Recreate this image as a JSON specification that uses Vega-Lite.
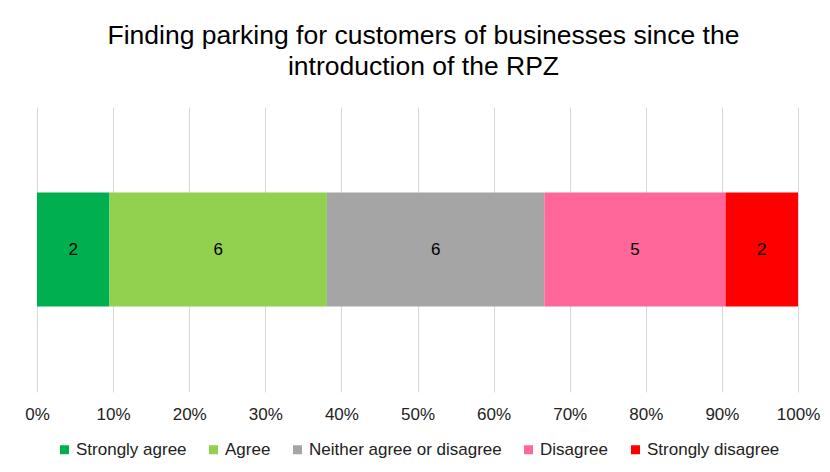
{
  "$schema": "https://vega.github.io/schema/vega-lite/v6.json",
  "width": 761,
  "height": 285,
  "autosize": {"type": "none"},
  "padding": {"left": 37, "top": 107, "right": 32, "bottom": 80},
  "background": "white",
  "title": {
    "text": ["Finding parking for customers of businesses since the", "introduction of the RPZ"],
    "font": "Liberation Sans",
    "fontSize": 26.5,
    "fontWeight": "normal",
    "color": "#000000",
    "lineHeight": 31,
    "anchor": "middle",
    "dx": 6,
    "offset": 27
  },
  "data": {
    "values": [
      {"q": "Q", "response": "Strongly agree", "count": 2, "k": 1},
      {"q": "Q", "response": "Agree", "count": 6, "k": 2},
      {"q": "Q", "response": "Neither agree or disagree", "count": 6, "k": 3},
      {"q": "Q", "response": "Disagree", "count": 5, "k": 4},
      {"q": "Q", "response": "Strongly disagree", "count": 2, "k": 5}
    ]
  },
  "transform": [
    {"stack": "count", "groupby": ["q"], "sort": [{"field": "k", "order": "ascending"}], "offset": "normalize", "as": ["x0", "x1"]},
    {"calculate": "(datum.x0 + datum.x1) / 2", "as": "xm"}
  ],
  "encoding": {
    "y": {"field": "q", "type": "nominal", "axis": null, "scale": {"paddingInner": 0, "paddingOuter": 0.75}}
  },
  "layer": [
    {
      "mark": {"type": "bar"},
      "encoding": {
        "x": {"field": "x0", "type": "quantitative", "scale": {"domain": [0, 1]},
          "axis": {"format": "%", "values": [0,0.1,0.2,0.3,0.4,0.5,0.6,0.7,0.8,0.9,1], "title": null, "domain": false, "ticks": false, "grid": true, "gridColor": "#d9d9d9", "gridWidth": 1, "labelFontSize": 17, "labelFont": "Liberation Sans", "labelColor": "#222222", "labelPadding": 14, "labelFlush": false}},
        "x2": {"field": "x1"},
        "color": {
          "field": "response", "type": "nominal",
          "scale": {"domain": ["Strongly agree", "Agree", "Neither agree or disagree", "Disagree", "Strongly disagree"],
                    "range": ["#00B050", "#92D050", "#A5A5A5", "#FF6699", "#FF0000"]},
          "legend": {"orient": "bottom", "direction": "horizontal", "title": null, "symbolType": "square", "symbolSize": 81, "symbolOpacity": 1, "symbolStrokeWidth": 0, "labelFontSize": 17, "labelFont": "Liberation Sans", "labelColor": "#222222", "labelLimit": 0, "columnPadding": 18, "labelOffset": 3, "offset": 19}
        }
      }
    },
    {
      "mark": {"type": "text", "fontSize": 17, "font": "Liberation Sans", "color": "#000000"},
      "encoding": {
        "x": {"field": "xm", "type": "quantitative"},
        "text": {"field": "count", "type": "quantitative"}
      }
    }
  ],
  "config": {"view": {"stroke": null}, "legend": {"layout": {"bottom": {"anchor": "middle"}}}}
}
